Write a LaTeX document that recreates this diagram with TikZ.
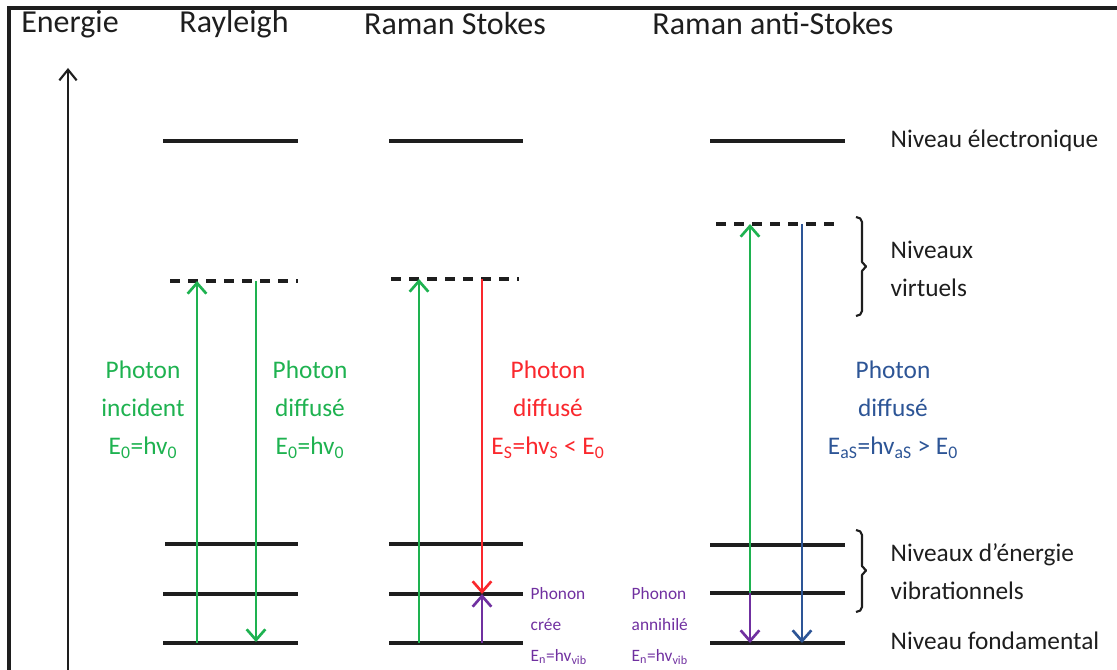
\documentclass[tikz,border=0pt]{standalone}
\usepackage{fontspec}
\setmainfont{Carlito}
\usetikzlibrary{arrows.meta}

\definecolor{ink}{RGB}{30,30,30}
\definecolor{phgreen}{RGB}{30,178,80}
\definecolor{phred}{RGB}{250,40,45}
\definecolor{phblue}{RGB}{45,85,150}
\definecolor{phpurple}{RGB}{112,48,160}

\newcommand{\sbs}[1]{\textsubscript{#1}}

\tikzset{
  level/.style={draw=ink, line width=2.9pt},
  virt/.style={draw=ink, line width=2.9pt, dash pattern=on 7.5pt off 6pt},
  photon/.style={line width=2pt, -{Straight Barb[length=8pt,width=14pt,line width=2pt]}},
  ttl/.style={font=\fontsize{24}{28}\selectfont, text=ink},
  lbl/.style={font=\fontsize{19}{28.5}\selectfont, align=center},
  side/.style={font=\fontsize{19}{28.5}\selectfont, align=left, anchor=west, text=ink},
  phon/.style={font=\fontsize{13}{23}\selectfont, align=left, anchor=west, text=phpurple},
  brc/.style={draw=ink, line width=1.6pt, line join=round}
}

\begin{document}
\begin{tikzpicture}[x=0.75pt, y=-0.75pt]
\useasboundingbox (0,0) rectangle (1117,670);

% frame
\draw[ink, line width=2.4pt] (9,671) -- (9,8) -- (1118,8);

% titles
\node[ttl] (tE) at (70,24) {Energie};
\node[ttl] (tR) at (234,24) {Rayleigh};
\node[ttl] (tS) at (455,24) {Raman Stokes};
\node[ttl] (tA) at (773,24) {Raman anti-Stokes};

% energy axis
\coordinate (axlo) at (68,672);
\coordinate (axhi) at (68,68);
\draw[ink, line width=1.6pt, -{Straight Barb[length=8pt,width=13pt,line width=1.6pt]}] (axlo) -- (axhi);

% ---------- Rayleigh ----------
\draw[level] (163,141) -- (298,141);
\draw[virt]  (170,281) -- (298,281);
\draw[level] (165,544) -- (298,544);
\draw[level] (163,594) -- (298,594);
\draw[level] (163,643) -- (298,643);
\coordinate (r0) at (197,643);
\coordinate (rv) at (197,281);
\coordinate (rv2) at (256,281);
\coordinate (r02) at (256,642);
\draw[photon, phgreen] (r0) -- (rv);
\draw[photon, phgreen] (rv2) -- (r02);
\node[lbl, text=phgreen] (rin) at (143,410) {Photon\\incident\\E\sbs{0}=hv\sbs{0}};
\node[lbl, text=phgreen] (rout) at (310,410) {Photon\\diffusé\\E\sbs{0}=hv\sbs{0}};

% ---------- Raman Stokes ----------
\draw[level] (389,141) -- (523,141);
\draw[virt]  (391,279) -- (519,279);
\draw[level] (389,544) -- (523,544);
\draw[level] (389,594) -- (523,594);
\draw[level] (389,643) -- (523,643);
\coordinate (s0) at (419,643);
\coordinate (sv) at (419,279);
\coordinate (sv2) at (482,279);
\coordinate (s1) at (482,594);
\coordinate (s02) at (482,643);
\draw[photon, phgreen] (s0) -- (sv);
\draw[photon, phred] (sv2) -- (s1);
\draw[photon, phpurple] (s02) -- (s1);
\node[lbl, text=phred] (sout) at (548,410) {Photon\\diffusé\\E\sbs{S}=hv\sbs{S} < E\sbs{0}};
\node[phon] (sph) at (526,626) {Phonon\\crée\\E\sbs{n}=hv\sbs{vib}};

% ---------- Raman anti-Stokes ----------
\draw[level] (710,141) -- (845,141);
\draw[virt]  (716,224) -- (842,224);
\draw[level] (710,545) -- (845,545);
\draw[level] (710,593) -- (845,593);
\draw[level] (710,643) -- (845,643);
\coordinate (a1) at (750,593);
\coordinate (av) at (750,224);
\coordinate (a0) at (750,643);
\coordinate (av2) at (802,224);
\coordinate (a02) at (802,643);
\draw[photon, phgreen] (a1) -- (av);
\draw[photon, phpurple] (a1) -- (a0);
\draw[photon, phblue] (av2) -- (a02);
\node[lbl, text=phblue] (aout) at (893,410) {Photon\\diffusé\\E\sbs{aS}=hv\sbs{aS} > E\sbs{0}};
\node[phon] (aph) at (627,626) {Phonon\\annihilé\\E\sbs{n}=hv\sbs{vib}};

% ---------- level names, with bracket-like braces ----------
\node[side] (nel) at (886,141) {Niveau électronique};
\coordinate (bv1) at (856,217);
\coordinate (bv2) at (856,316);
\draw[brc] (bv1) to[out=0,in=90] (862,222) -- (862,262) -- (866,266.5) -- (862,271) -- (862,311) to[out=-90,in=0] (bv2);
\node[side] (nvi) at (886,269) {Niveaux\\virtuels};
\coordinate (bb1) at (856,530);
\coordinate (bb2) at (856,612);
\draw[brc] (bb1) to[out=0,in=90] (862,535) -- (862,566) -- (866,570.5) -- (862,575) -- (862,607) to[out=-90,in=0] (bb2);
\node[side] (nvb) at (886,572) {Niveaux d’énergie\\vibrationnels};
\node[side] (nfo) at (886,641) {Niveau fondamental};
\end{tikzpicture}
\end{document}
